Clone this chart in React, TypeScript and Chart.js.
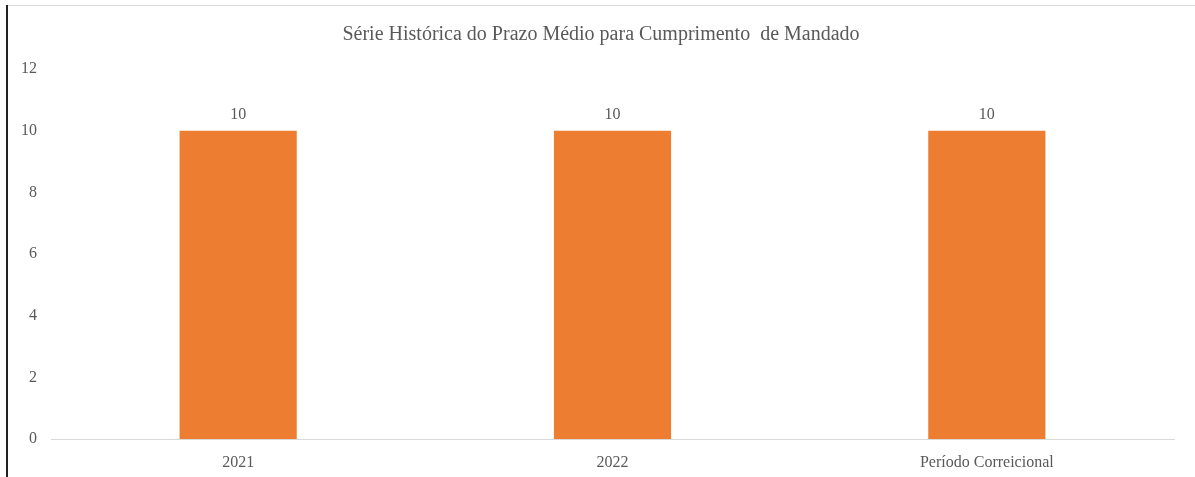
import React, { useEffect, useRef } from "react";
import { Chart, registerables } from "chart.js";

Chart.register(...registerables);

const categories = ["2021", "2022", "Período Correicional"];
const prazoMedio = [10, 10, 10];
const yTicks = [0, 2, 4, 6, 8, 10, 12];
const titleText = "Série Histórica do Prazo Médio para Cumprimento  de Mandado";

const FONT = "'Liberation Serif', 'Times New Roman', serif";
const TEXT = "#595959";

const valueLabels = {
  id: "valueLabels",
  afterDatasetsDraw(chart: any) {
    const ctx = chart.ctx;
    ctx.save();
    ctx.font = `16px ${FONT}`;
    ctx.fillStyle = TEXT;
    ctx.textAlign = "center";
    ctx.textBaseline = "bottom";
    chart.data.datasets.forEach((ds: any, i: number) => {
      const meta = chart.getDatasetMeta(i);
      meta.data.forEach((bar: any, j: number) => {
        ctx.fillText(String(ds.data[j]), bar.x, bar.y - 8);
      });
    });
    ctx.restore();
  },
};

const centeredTitle = {
  id: "centeredTitle",
  afterDraw(chart: any) {
    const ctx = chart.ctx;
    ctx.save();
    ctx.font = `20px ${FONT}`;
    ctx.fillStyle = TEXT;
    ctx.textAlign = "center";
    ctx.textBaseline = "middle";
    ctx.fillText(titleText, 601, 35);
    ctx.restore();
  },
};

export default function App() {
  const ref = useRef<HTMLCanvasElement>(null);
  useEffect(() => {
    if (!ref.current) return;
    const chart = new Chart(ref.current, {
      type: "bar",
      data: {
        labels: categories,
        datasets: [
          {
            data: prazoMedio,
            backgroundColor: "#ED7D31",
            categoryPercentage: 1,
            barPercentage: 0.313,
          },
        ],
      },
      options: {
        animation: false,
        responsive: false,
        layout: { padding: { left: 0, right: 21, top: 69, bottom: 0 } },
        plugins: {
          legend: { display: false },
          tooltip: { enabled: false },
          title: { display: false },
        },
        scales: {
          x: {
            afterFit: (s: any) => {
              s.height = 38;
            },
            grid: { display: false, drawTicks: false },
            border: { display: true, color: "#d9d9d9", width: 1 },
            ticks: {
              color: TEXT,
              font: { family: FONT, size: 16 },
              padding: 14,
            },
          },
          y: {
            min: 0,
            max: 12,
            afterBuildTicks: (s: any) => {
              s.ticks = yTicks.map((v) => ({ value: v }));
            },
            afterFit: (s: any) => {
              s.width = 51;
            },
            grid: { display: false, drawTicks: false },
            border: { display: false },
            ticks: {
              color: TEXT,
              font: { family: FONT, size: 16 },
              padding: 14,
            },
          },
        },
      },
      plugins: [valueLabels, centeredTitle],
    });
    return () => chart.destroy();
  }, []);

  return (
    <div style={{ position: "absolute", left: 0, top: 0, width: 1195, height: 477, background: "#fff" }}>
      <canvas ref={ref} width={1195} height={477} style={{ position: "absolute", left: 0, top: 0 }} />
      <div style={{ position: "absolute", left: 6, top: 5, width: 2, height: 472, background: "#222" }} />
      <div style={{ position: "absolute", left: 8, top: 5, width: 1187, height: 1, background: "#d9d9d9" }} />
    </div>
  );
}
